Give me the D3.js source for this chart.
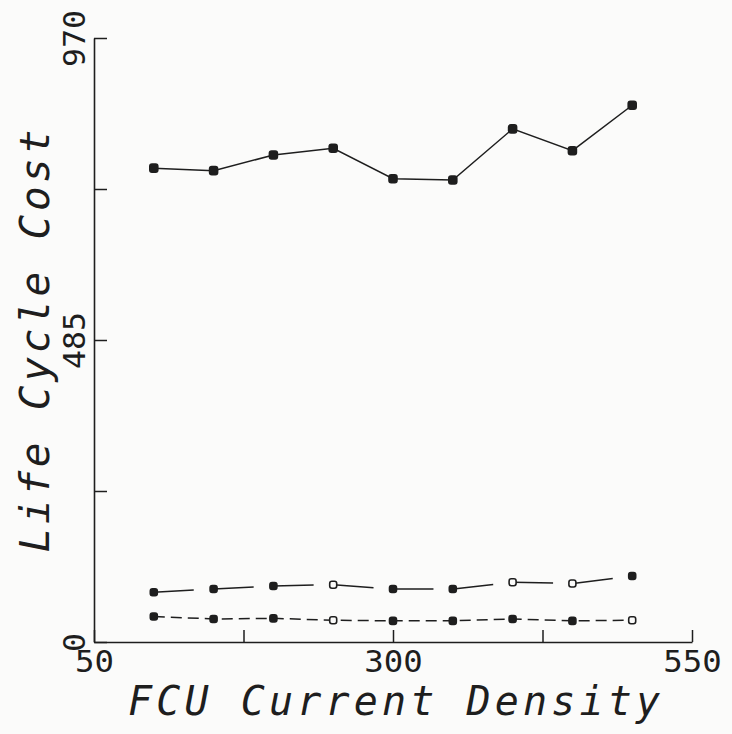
<!DOCTYPE html>
<html><head><meta charset="utf-8">
<script src="https://cdn.jsdelivr.net/npm/d3@7"></script>
<style>
html,body{margin:0;padding:0;background:#fbfbfa;}
svg{display:block;}
</style></head>
<body>
<svg id="chart" width="732" height="734"></svg>
<script>
// ---- data ----
const currentDensity = [100, 150, 200, 250, 300, 350, 400, 450, 500];
const seriesTop    = [761, 757, 782, 793, 744, 742, 824, 789, 862];
const seriesMiddle = [80, 85, 90, 92, 85, 85, 96, 94, 106];
const seriesBottom = [41, 37, 38, 35, 34, 34, 37, 34, 35];
const openTop = [];
const openMiddle = [3, 6, 7];
const openBottom = [3, 8];
const xTicks = [50, 175, 300, 425, 550];
const xTickLabels = {50: "50", 300: "300", 550: "550"};
const yTicks = [0, 242.5, 485, 727.5, 970];
const yTickLabels = {0: "0", 485: "485", 970: "970"};
const xTitle = "FCU Current Density";
const yTitle = "Life Cycle Cost";

// ---- drawing ----
const svg = d3.select("#chart");
const ink = "#1e1e1e";
const x = d3.scaleLinear().domain([50, 550]).range([94, 692]);
const y = d3.scaleLinear().domain([0, 970]).range([642, 38]);
const font = "'DejaVu Sans Mono', monospace";

// axes
const yAxis = d3.axisLeft(y).tickValues(yTicks).tickSize(-13).tickSizeOuter(0)
  .tickFormat(d => yTickLabels[d] || "");
const gy = svg.append("g").attr("transform", `translate(${x(50)},0)`).call(yAxis);
gy.select(".domain").attr("stroke", ink).attr("stroke-width", 1.6);
gy.selectAll(".tick line").attr("stroke", ink).attr("stroke-width", 1.5);
gy.selectAll(".tick text")
  .attr("transform", "rotate(-90)")
  .attr("x", 0).attr("y", -9).attr("dy", 0)
  .attr("text-anchor", "middle")
  .attr("fill", ink)
  .style("font-family", font).style("font-size", "30px")
  .each(function(){ const t=d3.select(this).text(); d3.select(this).attr("textLength", t.length*19).attr("lengthAdjust","spacingAndGlyphs"); });

const xAxis = d3.axisBottom(x).tickValues(xTicks).tickSize(-12).tickSizeOuter(0)
  .tickPadding(9).tickFormat(d => xTickLabels[d] || "");
const gx = svg.append("g").attr("transform", `translate(0,${y(0)})`).call(xAxis);
gx.select(".domain").attr("stroke", ink).attr("stroke-width", 1.6);
gx.selectAll(".tick line").attr("stroke", ink).attr("stroke-width", 1.5);
gx.selectAll(".tick text")
  .attr("fill", ink)
  .style("font-family", font).style("font-size", "30px")
  .each(function(){ const t=d3.select(this).text(); d3.select(this).attr("textLength", t.length*19.5).attr("lengthAdjust","spacingAndGlyphs"); });

// titles
svg.append("text")
  .attr("x", 394).attr("y", 715)
  .attr("text-anchor", "middle")
  .attr("fill", ink)
  .style("font-family", font).style("font-size", "40px").style("font-style", "italic")
  .attr("textLength", 532).attr("lengthAdjust", "spacing")
  .text(xTitle);

svg.append("text")
  .attr("transform", `translate(49,${341}) rotate(-90)`)
  .attr("text-anchor", "middle")
  .attr("fill", ink)
  .style("font-family", font).style("font-size", "41px").style("font-style", "italic")
  .attr("textLength", 423).attr("lengthAdjust", "spacing")
  .text(yTitle);

// series
function drawSeries(vals, open, dash, size, width) {
  const pts = currentDensity.map((d, i) => [x(d), y(vals[i])]);
  svg.append("path")
    .attr("d", d3.line()(pts))
    .attr("fill", "none").attr("stroke", ink)
    .attr("stroke-width", width)
    .attr("stroke-dasharray", dash);
  svg.append("g").selectAll("rect").data(currentDensity).join("rect")
    .attr("x", (d) => x(d) - size/2)
    .attr("y", (d, i) => y(vals[i]) - size/2)
    .attr("width", size).attr("height", size)
    .attr("rx", 2.2)
    .attr("fill", (d, i) => open.includes(i) ? "#fbfbfa" : ink)
    .attr("stroke", ink).attr("stroke-width", 1.6);
}
drawSeries(seriesTop, openTop, null, 8, 1.5);
drawSeries(seriesMiddle, openMiddle, "40,20", 7, 1.5);
drawSeries(seriesBottom, openBottom, "11,6", 7, 1.5);
</script>
</body></html>
